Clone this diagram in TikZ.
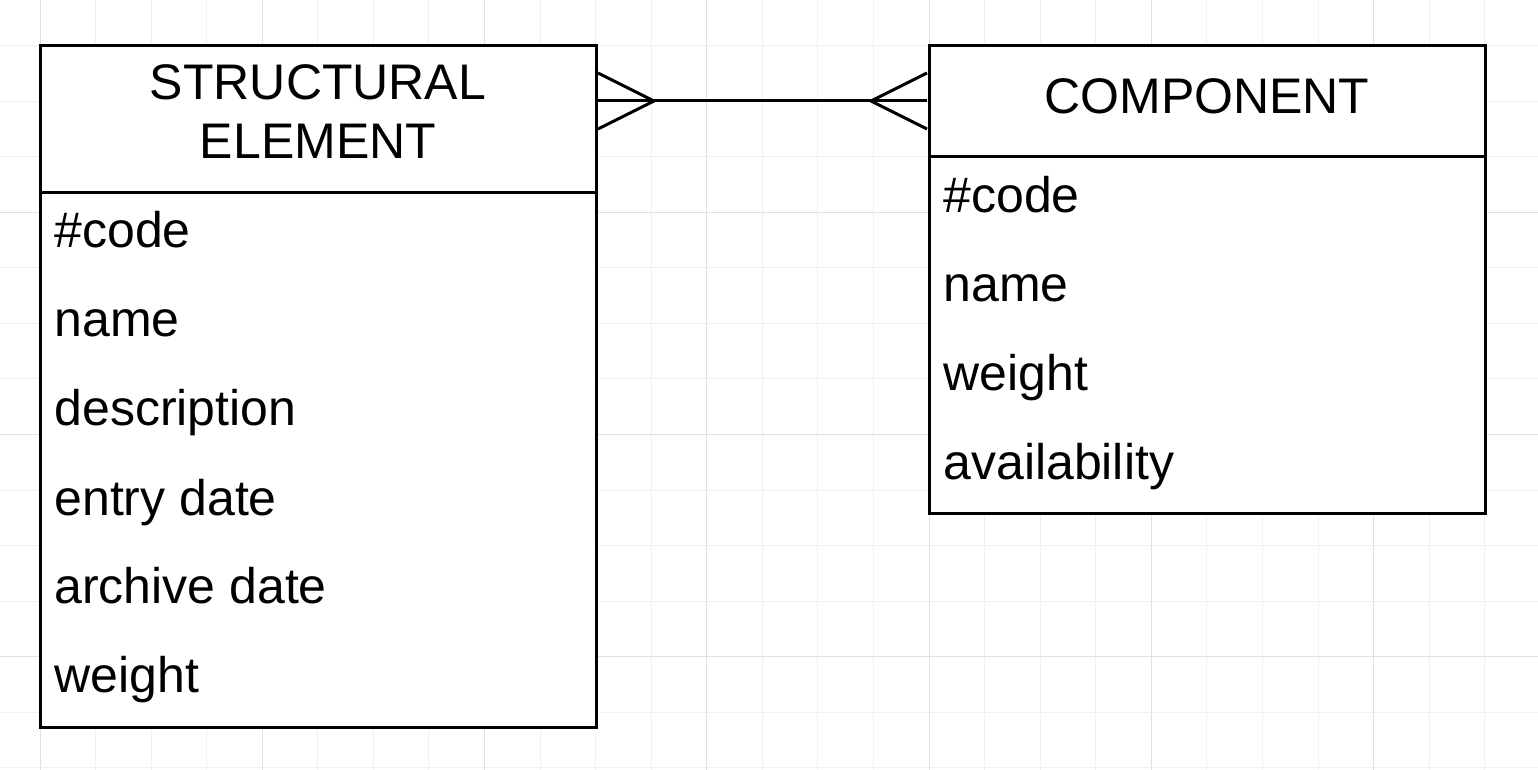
\documentclass[tikz,border=0pt]{standalone}
\usepackage{fontspec}
\setmainfont{Liberation Sans}
\usetikzlibrary{calc}
\begin{document}
\begin{tikzpicture}[x=0.5pt,y=-0.5pt,
  minorgrid/.style={draw=black!6,line width=0.5pt},
  majorgrid/.style={draw=black!12,line width=0.5pt},
  entity/.style={draw=black,fill=white,line width=1.5pt,anchor=north west,inner sep=0pt,outer sep=0pt,minimum width=278pt},
  sepline/.style={draw=black,line width=1.5pt},
  attr/.style={anchor=base west,inner sep=0pt,font=\fontsize{25}{30}\selectfont},
  title/.style={anchor=base,inner sep=0pt,font=\fontsize{25}{30}\selectfont},
  rel/.style={draw=black,line width=1.5pt}]
\useasboundingbox (0,0) rectangle (1538,770);
\fill[white] (0,0) rectangle (1538,770);
% grid
\foreach \i in {0,...,26}{
  \pgfmathsetmacro\gx{40+\i*55.57}
  \pgfmathtruncatemacro\m{mod(\i,4)}
  \ifnum\m=0 \draw[majorgrid] (\gx,0) -- (\gx,770); \else \draw[minorgrid] (\gx,0) -- (\gx,770); \fi
}
\foreach \j in {1,...,14}{
  \pgfmathsetmacro\gy{-10+\j*55.57}
  \pgfmathtruncatemacro\m{mod(\j,4)}
  \ifnum\m=0 \draw[majorgrid] (0,\gy) -- (1538,\gy); \else \draw[minorgrid] (0,\gy) -- (1538,\gy); \fi
}
% entities
\node[entity,minimum height=340.5pt] (se) at (40,46) {};
\node[entity,minimum height=233.5pt] (co) at (929,46) {};
\draw[sepline] (se.west |- 0,193) -- (se.east |- 0,193);
\draw[sepline] (co.west |- 0,157) -- (co.east |- 0,157);
% titles
\node[title] (set1) at (318,100) {STRUCTURAL};
\node[title] (set2) at (318,159) {ELEMENT};
\node[title] (cot) at (1207,114) {COMPONENT};
% attributes
\node[attr] (sea1) at (54,248) {\#code};
\node[attr] (sea2) at (54,337) {name};
\node[attr] (sea3) at (54,426) {description};
\node[attr] (sea4) at (54,515) {entry date};
\node[attr] (sea5) at (54,603) {archive date};
\node[attr] (sea6) at (54,692) {weight};
\node[attr] (coa1) at (943,213) {\#code};
\node[attr] (coa2) at (943,302) {name};
\node[attr] (coa3) at (943,391) {weight};
\node[attr] (coa4) at (943,480) {availability};
% relationship
\coordinate (lt) at ($(se.north east)+(2,27)$);
\coordinate (lm) at ($(se.north east)+(2,55)$);
\coordinate (lb) at ($(se.north east)+(2,83)$);
\coordinate (lc) at ($(se.north east)+(58,55)$);
\coordinate (rt) at ($(co.north west)+(-2,27)$);
\coordinate (rm) at ($(co.north west)+(-2,55)$);
\coordinate (rb) at ($(co.north west)+(-2,83)$);
\coordinate (rc) at ($(co.north west)+(-58,55)$);
\draw[rel] (lm) -- (rm);
\draw[rel] (lt) -- (lc) -- (lb);
\draw[rel] (rt) -- (rc) -- (rb);
\end{tikzpicture}
\end{document}
